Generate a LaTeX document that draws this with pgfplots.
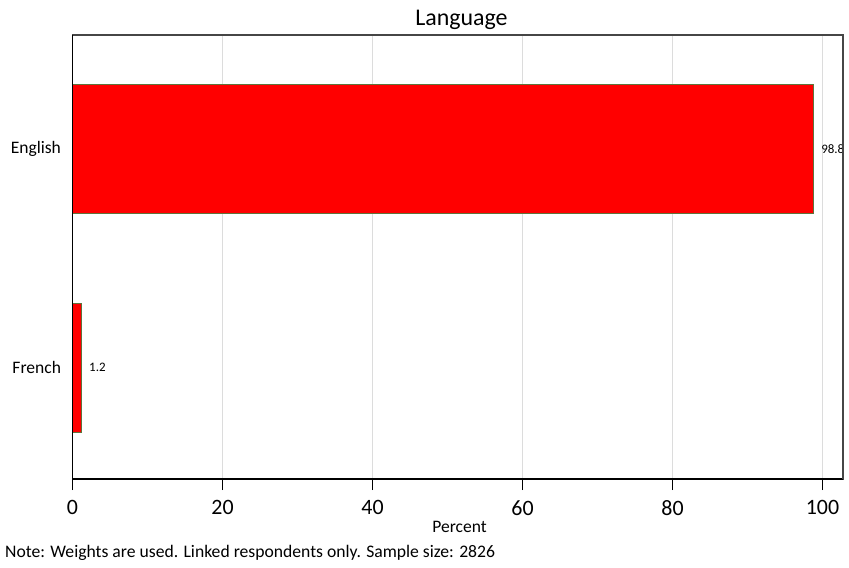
\documentclass[border=0pt]{standalone}
\usepackage{pgfplots}
\pgfplotsset{compat=1.18}
\usepackage{fontspec}
\setmainfont{Carlito}
\definecolor{barred}{RGB}{255,0,0}
\definecolor{baredge}{RGB}{95,115,60}
\definecolor{gridgray}{RGB}{220,220,220}
\definecolor{boxgray}{RGB}{70,70,70}
\begin{document}
\begin{tikzpicture}
\useasboundingbox (-72.5bp,-89bp) rectangle (776.5bp,479bp);
\begin{axis}[
  scale only axis,
  width=770.5bp, height=444bp,
  xbar,
  xmin=0, xmax=102.73,
  ymin=-0.509, ymax=1.523,
  bar width=129bp,
  xtick={0,20,40,60,80,100},
  ytick={0,1},
  yticklabels={French,English},
  /pgf/number format/assume math mode=true,
  xticklabel style={font=\fontsize{22}{24}\selectfont, yshift=-7bp},
  yticklabel style={font=\fontsize{17.6}{20}\selectfont, xshift=3bp},
  xmajorgrids=true,
  major grid style={draw=gridgray, line width=1.5bp},
  axis line style={draw=boxgray, line width=1.2bp},
  tick align=outside,
  tick pos=left,
  major tick length=11bp,
  xtick style={draw=black, line width=1.2bp},
  ytick style={draw=none},
  nodes near coords,
  nodes near coords style={font=\fontsize{13}{15}\selectfont, anchor=west, xshift=4bp, text=black},
  point meta=explicit symbolic,
  clip=false,
]
\addplot[fill=barred, draw=baredge, line width=0.8bp] coordinates {
  (1.2,0) [1.2]
  (98.8,1) [98.8]
};
\pgfplotsinvokeforeach{0,20,40,60,80,100}{
  \draw[black, line width=1.2bp] (axis cs:#1,-0.509) -- ([yshift=-11bp]axis cs:#1,-0.509);
}
\end{axis}
\draw[black, line width=1.2bp] (0,0) -- (0,444bp);
\draw[black, line width=1.2bp] (0,0) -- (770.5bp,0);
\fill[white] (771.2bp,0) rectangle (780bp,444bp);
\draw[boxgray, line width=1.2bp] (770.5bp,0) -- (770.5bp,444bp);
\node[font=\fontsize{24}{27}\selectfont, anchor=base] at (389bp,453bp) {Language};
\node[font=\fontsize{17.6}{20}\selectfont, anchor=base] at (387bp,-53bp) {Percent};
\node[font=\fontsize{17.7}{20}\selectfont, anchor=base west, inner sep=0pt] at (-67.5bp,-78bp) {Note: Weights are used. Linked respondents only. Sample size: 2826};
\end{tikzpicture}
\end{document}
